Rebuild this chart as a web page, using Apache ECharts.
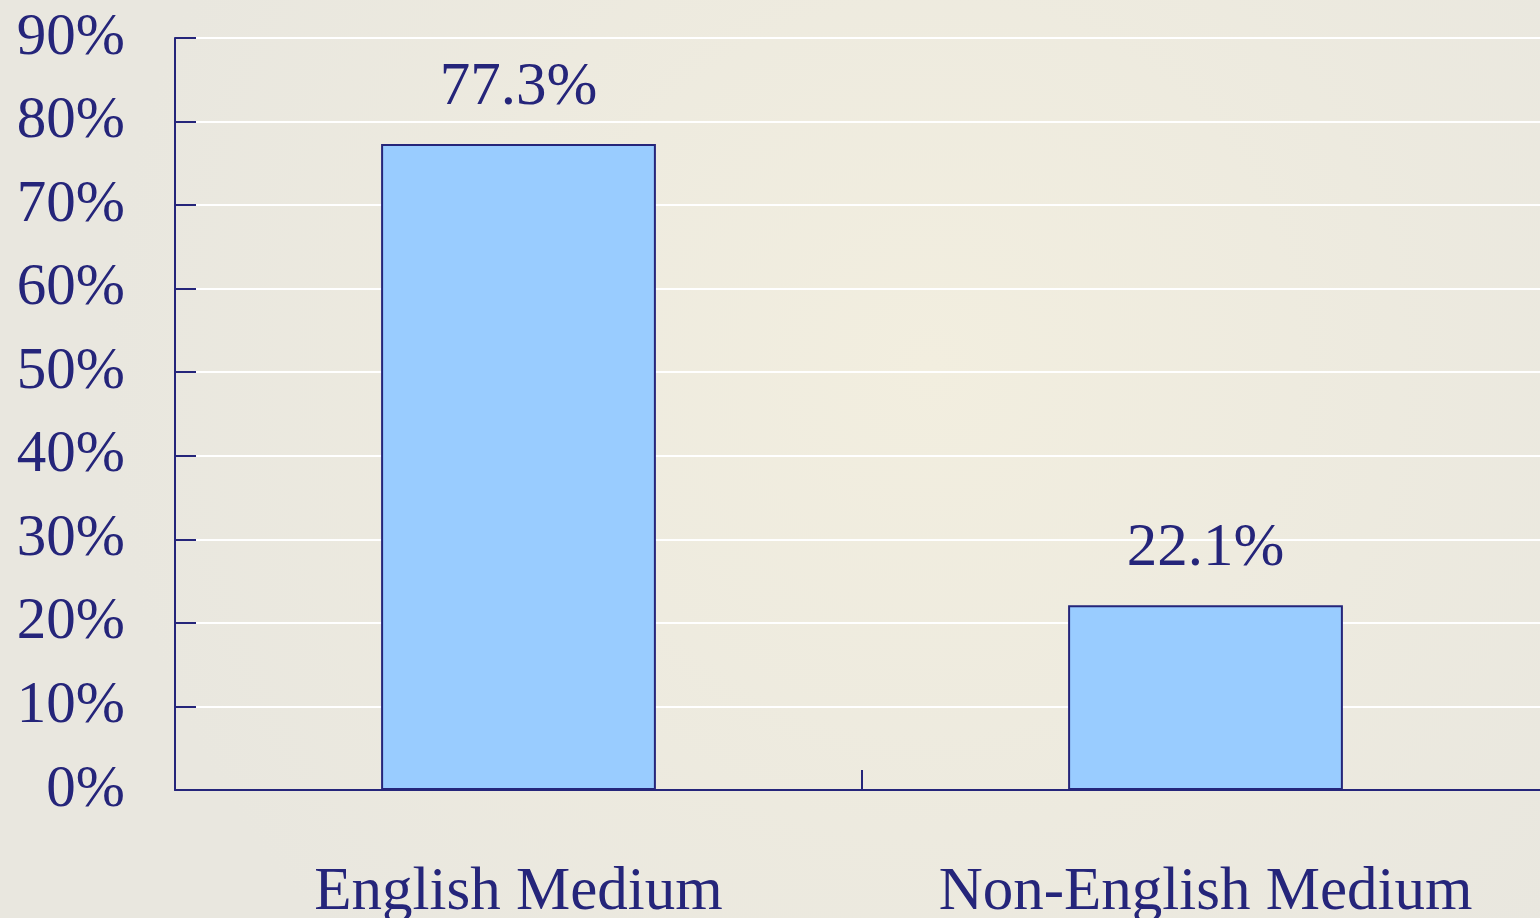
<!DOCTYPE html>
<html>
<head>
<meta charset="utf-8">
<style>
  html, body { margin: 0; padding: 0; overflow: hidden; }
  #chart { width: 1550px; height: 918px; }
</style>
<script src="https://cdn.jsdelivr.net/npm/echarts@6/dist/echarts.min.js"></script>
</head>
<body>
<div id="chart"></div>
<script>
var categories = ['English Medium', 'Non-English Medium'];
var values = [77.3, 22.1];
var yTicks = [0, 10, 20, 30, 40, 50, 60, 70, 80, 90];

var navy = '#25257a';
// chart is a bit wider than the window: the plot runs off the right edge
var chart = echarts.init(document.getElementById('chart'));
var option = {
    backgroundColor: {
        type: 'radial', x: 0.6, y: 0.4, r: 0.9,
        colorStops: [
            { offset: 0, color: '#f2eedf' },
            { offset: 1, color: '#e9e7df' }
        ]
    },
    textStyle: { fontFamily: 'Liberation Serif' },
    grid: { left: 175, right: 1, top: 38, bottom: 128, containLabel: false, outerBoundsMode: 'none' },
    xAxis: {
        type: 'category',
        data: categories,
        axisLine: { lineStyle: { color: navy, width: 2 } },
        axisTick: { show: true, inside: true, interval: 0, length: 20, lineStyle: { color: navy, width: 2 } },
        axisLabel: { color: navy, fontSize: 61, margin: 72, interval: 0, fontFamily: 'Liberation Serif' }
    },
    yAxis: {
        type: 'value',
        min: yTicks[0],
        max: yTicks[yTicks.length - 1],
        interval: 10,
        axisLine: { show: true, lineStyle: { color: navy, width: 2 } },
        axisTick: { show: true, inside: true, length: 21, lineStyle: { color: navy, width: 2 } },
        axisLabel: {
            color: navy, fontSize: 59, margin: 50, fontFamily: 'Liberation Serif',
            padding: [12, 0, 0, 0],
            formatter: function (v) { return v + '%'; }
        },
        splitLine: { show: true, lineStyle: { color: '#ffffff', width: 2 } }
    },
    series: [{
        type: 'bar',
        data: values,
        barWidth: '40%',
        itemStyle: { color: '#99ccff', borderColor: navy, borderWidth: 2 },
        label: {
            show: true,
            position: 'top',
            distance: 26,
            color: navy,
            fontSize: 61,
            fontFamily: 'Liberation Serif',
            formatter: function (p) { return p.value.toFixed(1) + '%'; }
        }
    }]
};
chart.setOption(option);
</script>
</body>
</html>
